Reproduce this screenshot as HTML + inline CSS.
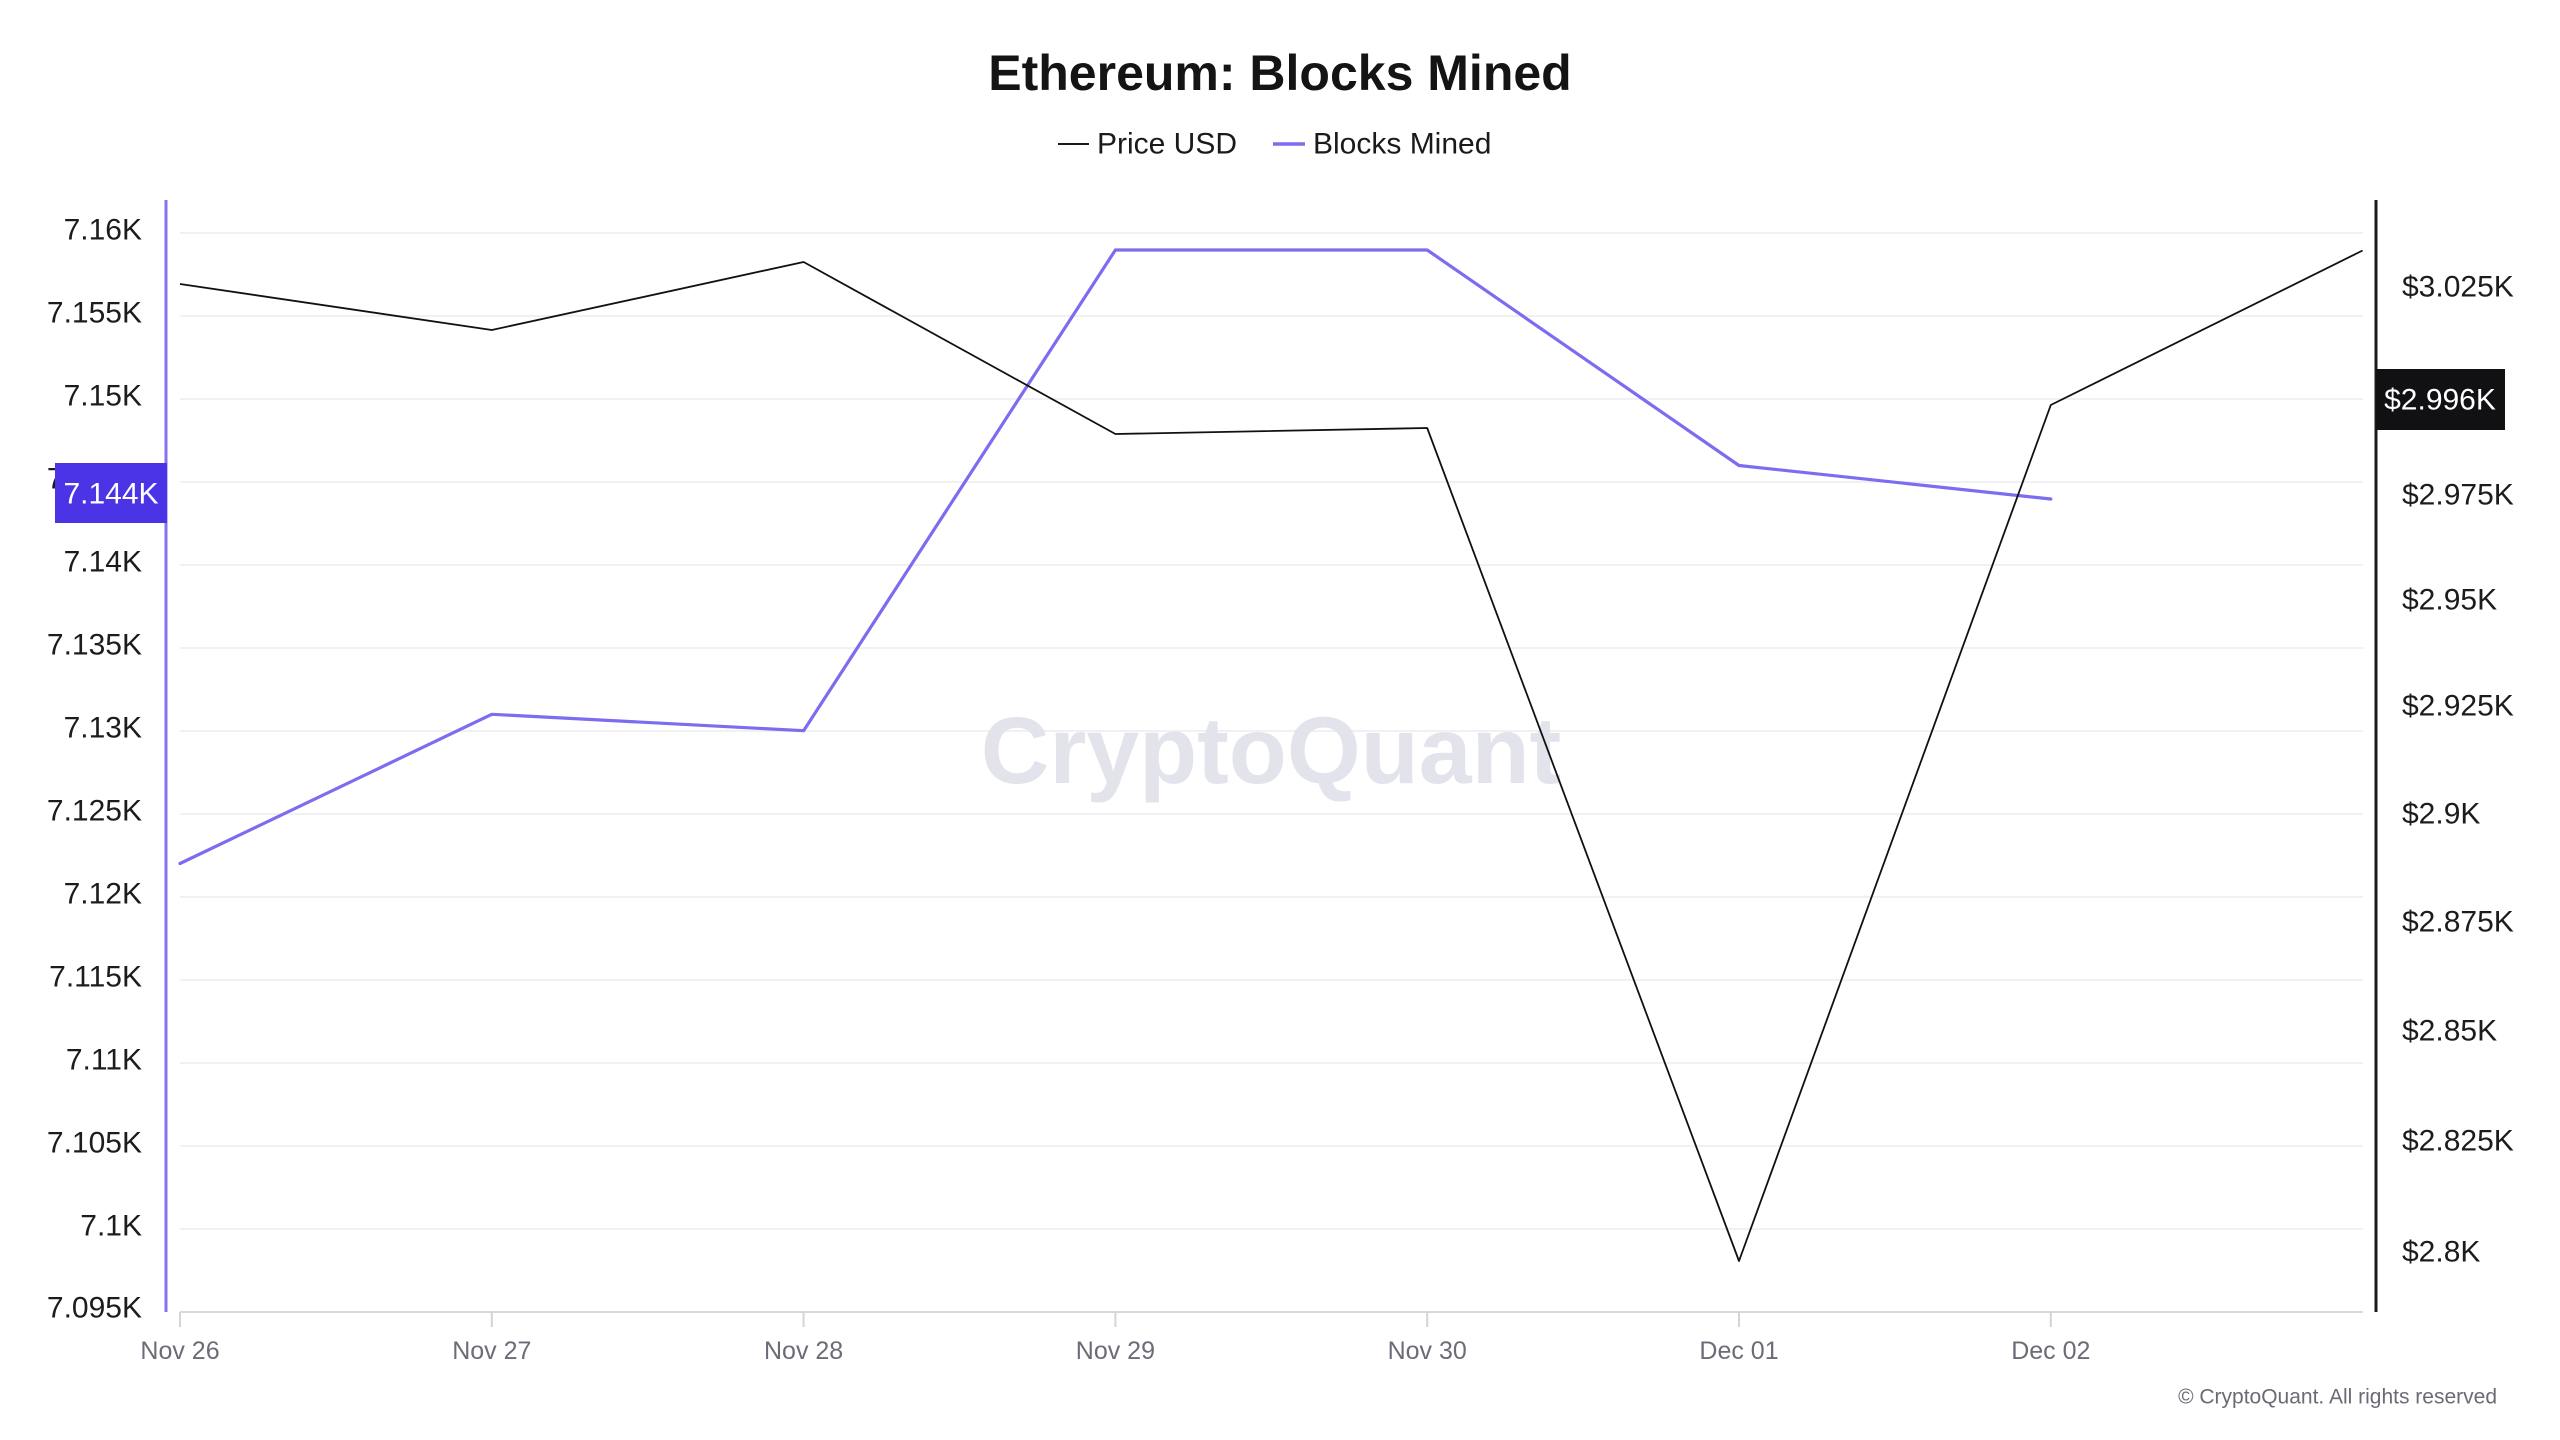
<!DOCTYPE html>
<html>
<head>
<meta charset="utf-8">
<style>
  html,body{margin:0;padding:0;background:#ffffff;}
  svg{display:block;}
  text{font-family:"Liberation Sans", Arial, sans-serif;}
</style>
</head>
<body>
<svg width="2560" height="1440" viewBox="0 0 2560 1440" xmlns="http://www.w3.org/2000/svg">
  <rect x="0" y="0" width="2560" height="1440" fill="#ffffff"/>

  <!-- Title -->
  <text x="1280" y="73" text-anchor="middle" dominant-baseline="central" font-size="50" font-weight="bold" fill="#141414">Ethereum: Blocks Mined</text>

  <!-- Legend -->
  <line x1="1058" y1="144" x2="1089" y2="144" stroke="#1a1a1a" stroke-width="2"/>
  <text x="1097" y="144" dominant-baseline="central" font-size="30" fill="#1a1a1a">Price USD</text>
  <line x1="1273" y1="144" x2="1305" y2="144" stroke="#7b6cf0" stroke-width="3.5"/>
  <text x="1313" y="144" dominant-baseline="central" font-size="30" fill="#1a1a1a">Blocks Mined</text>

  <!-- Gridlines -->
  <g stroke="#f1f1f3" stroke-width="2">
    <line x1="180" y1="233" x2="2363" y2="233"/>
    <line x1="180" y1="316" x2="2363" y2="316"/>
    <line x1="180" y1="399" x2="2363" y2="399"/>
    <line x1="180" y1="482" x2="2363" y2="482"/>
    <line x1="180" y1="565" x2="2363" y2="565"/>
    <line x1="180" y1="648" x2="2363" y2="648"/>
    <line x1="180" y1="731" x2="2363" y2="731"/>
    <line x1="180" y1="814" x2="2363" y2="814"/>
    <line x1="180" y1="897" x2="2363" y2="897"/>
    <line x1="180" y1="980" x2="2363" y2="980"/>
    <line x1="180" y1="1063" x2="2363" y2="1063"/>
    <line x1="180" y1="1146" x2="2363" y2="1146"/>
    <line x1="180" y1="1229" x2="2363" y2="1229"/>
  </g>

  <!-- Watermark -->
  <text x="1271" y="783" text-anchor="middle" font-size="95" font-weight="bold" fill="#e3e3eb">CryptoQuant</text>

  <!-- X axis -->
  <line x1="180" y1="1312" x2="2363" y2="1312" stroke="#d8d8dc" stroke-width="2"/>
  <g stroke="#d4d4d8" stroke-width="2">
    <line x1="180" y1="1312" x2="180" y2="1327"/>
    <line x1="491.8" y1="1312" x2="491.8" y2="1327"/>
    <line x1="803.6" y1="1312" x2="803.6" y2="1327"/>
    <line x1="1115.4" y1="1312" x2="1115.4" y2="1327"/>
    <line x1="1427.2" y1="1312" x2="1427.2" y2="1327"/>
    <line x1="1739" y1="1312" x2="1739" y2="1327"/>
    <line x1="2050.8" y1="1312" x2="2050.8" y2="1327"/>
  </g>
  <g font-size="25" fill="#6c6c78" text-anchor="middle">
    <text x="180" y="1351" dominant-baseline="central">Nov 26</text>
    <text x="491.8" y="1351" dominant-baseline="central">Nov 27</text>
    <text x="803.6" y="1351" dominant-baseline="central">Nov 28</text>
    <text x="1115.4" y="1351" dominant-baseline="central">Nov 29</text>
    <text x="1427.2" y="1351" dominant-baseline="central">Nov 30</text>
    <text x="1739" y="1351" dominant-baseline="central">Dec 01</text>
    <text x="2050.8" y="1351" dominant-baseline="central">Dec 02</text>
  </g>

  <!-- Left axis -->
  <line x1="166" y1="200" x2="166" y2="1312" stroke="#8475ee" stroke-width="3"/>
  <g font-size="30" fill="#1c1c1c" text-anchor="end">
    <text x="142" y="230" dominant-baseline="central">7.16K</text>
    <text x="142" y="313" dominant-baseline="central">7.155K</text>
    <text x="142" y="396" dominant-baseline="central">7.15K</text>
    <text x="142" y="479" dominant-baseline="central">7.145K</text>
    <text x="142" y="562" dominant-baseline="central">7.14K</text>
    <text x="142" y="645" dominant-baseline="central">7.135K</text>
    <text x="142" y="728" dominant-baseline="central">7.13K</text>
    <text x="142" y="811" dominant-baseline="central">7.125K</text>
    <text x="142" y="894" dominant-baseline="central">7.12K</text>
    <text x="142" y="977" dominant-baseline="central">7.115K</text>
    <text x="142" y="1060" dominant-baseline="central">7.11K</text>
    <text x="142" y="1143" dominant-baseline="central">7.105K</text>
    <text x="142" y="1226" dominant-baseline="central">7.1K</text>
    <text x="142" y="1308" dominant-baseline="central">7.095K</text>
  </g>
  <rect x="55" y="463" width="112" height="60" fill="#4b33e6"/>
  <text x="111" y="494" text-anchor="middle" dominant-baseline="central" font-size="30" fill="#ffffff">7.144K</text>

  <!-- Right axis -->
  <line x1="2376" y1="200" x2="2376" y2="1312" stroke="#1a1a1a" stroke-width="3"/>
  <g font-size="30" fill="#1c1c1c">
    <text x="2402" y="287" dominant-baseline="central">$3.025K</text>
    <text x="2402" y="390" dominant-baseline="central">$3K</text>
    <text x="2402" y="495" dominant-baseline="central">$2.975K</text>
    <text x="2402" y="600" dominant-baseline="central">$2.95K</text>
    <text x="2402" y="706" dominant-baseline="central">$2.925K</text>
    <text x="2402" y="814" dominant-baseline="central">$2.9K</text>
    <text x="2402" y="922" dominant-baseline="central">$2.875K</text>
    <text x="2402" y="1031" dominant-baseline="central">$2.85K</text>
    <text x="2402" y="1141" dominant-baseline="central">$2.825K</text>
    <text x="2402" y="1252" dominant-baseline="central">$2.8K</text>
  </g>
  <rect x="2376" y="369" width="129" height="61" fill="#111114"/>
  <text x="2440" y="400" text-anchor="middle" dominant-baseline="central" font-size="30" fill="#ffffff">$2.996K</text>

  <!-- Blocks Mined series -->
  <polyline fill="none" stroke="#7b6cf0" stroke-width="3.2" stroke-linejoin="round" stroke-linecap="round"
    points="180,863.5 491.8,714.3 803.6,730.7 1115.4,250 1427.2,250 1739,465.5 2050.8,499"/>

  <!-- Price USD series -->
  <polyline fill="none" stroke="#111111" stroke-width="1.8" stroke-linejoin="round"
    points="180,284 491.8,330 803.6,262 1115.4,434 1427.2,428 1739,1261 2050.8,405 2362.6,250.5"/>

  <!-- Copyright -->
  <text x="2497" y="1397" text-anchor="end" dominant-baseline="central" font-size="21" fill="#6b6b76">© CryptoQuant. All rights reserved</text>
</svg>
</body>
</html>
